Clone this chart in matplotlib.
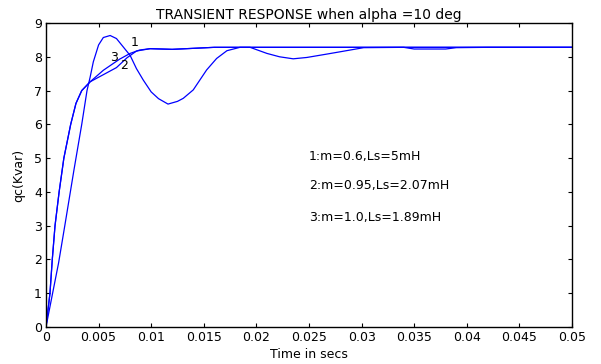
import matplotlib
matplotlib.use('Agg')
import matplotlib.pyplot as plt

## data ##

# curve 1 : m=0.6, Ls=5mH (oscillating)
t1 = [0, 0.00063, 0.0012, 0.0018, 0.00266, 0.0034, 0.0039, 0.0042, 0.0045,
      0.0050, 0.00545, 0.0061, 0.0067, 0.00735, 0.0080, 0.0086, 0.00925, 0.0100,
      0.0107, 0.0116, 0.0125, 0.01305, 0.0140, 0.01527, 0.01622, 0.0172, 0.01844,
      0.0194, 0.0210, 0.0222, 0.0235, 0.0248, 0.0267, 0.0280, 0.0302, 0.0340,
      0.0350, 0.0380, 0.0390, 0.0420, 0.0500]
q1 = [0, 1.0, 1.9, 3.02, 4.65, 6.0, 7.0, 7.4, 7.85,
      8.35, 8.57, 8.63, 8.54, 8.29, 8.04, 7.65, 7.31, 6.96,
      6.76, 6.6, 6.68, 6.77, 7.02, 7.61, 7.95, 8.18, 8.28,
      8.28, 8.1, 8.0, 7.94, 7.98, 8.08, 8.15, 8.27, 8.28,
      8.23, 8.23, 8.27, 8.28, 8.28]

# curve 2 : m=0.95, Ls=2.07mH
t2 = [0, 0.00038, 0.0006, 0.00086, 0.00125, 0.0017, 0.00235, 0.00285,
      0.0034, 0.0042, 0.00545, 0.0067, 0.0077, 0.0086, 0.0099, 0.012, 0.016, 0.05]
q2 = [0, 1.0, 2.0, 3.0, 4.0, 5.0, 6.0, 6.62,
      7.0, 7.26, 7.47, 7.68, 7.97, 8.17, 8.24, 8.22, 8.28, 8.28]

# curve 3 : m=1.0, Ls=1.89mH
t3 = [0, 0.00038, 0.0006, 0.00086, 0.00125, 0.0017, 0.00235, 0.00285,
      0.0034, 0.0042, 0.00545, 0.0070, 0.0080, 0.0089, 0.0099, 0.012, 0.016, 0.05]
q3 = [0, 1.0, 2.0, 3.0, 4.0, 5.0, 6.0, 6.62,
      7.0, 7.26, 7.6, 7.93, 8.1, 8.2, 8.24, 8.22, 8.28, 8.28]

xticks = [0, 0.005, 0.01, 0.015, 0.02, 0.025, 0.03, 0.035, 0.04, 0.045, 0.05]
xticklabels = ['0', '0.005', '0.01', '0.015', '0.02', '0.025', '0.03',
               '0.035', '0.04', '0.045', '0.05']
yticks = list(range(10))

notes = ['1:m=0.6,Ls=5mH', '2:m=0.95,Ls=2.07mH', '3:m=1.0,Ls=1.89mH']
note_y = [5.06, 4.2, 3.24]
curve_labels = ['1', '2', '3']
curve_label_pos = [(0.00846, 8.43), (0.0074, 7.75), (0.00646, 7.99)]


## plot ##

plt.rcParams['font.family'] = ['DejaVu Sans']
plt.rcParams['font.size'] = 9

fig, ax = plt.subplots(figsize=(6.01, 3.64), dpi=100)
fig.subplots_adjust(left=0.0765, right=0.9517, top=0.9368, bottom=0.1016)

for t, q in [(t1, q1), (t2, q2), (t3, q3)]:
    ax.plot(t, q, color='#0000ff', linewidth=0.9)

for lab, (x, y) in zip(curve_labels, curve_label_pos):
    ax.text(x, y, lab, ha='center', va='center')

for txt, y in zip(notes, note_y):
    ax.text(0.025, y, txt, ha='left', va='center')

ax.set_xlim(0, 0.05)
ax.set_ylim(0, 9)
ax.set_xticks(xticks)
ax.set_xticklabels(xticklabels)
ax.set_yticks(yticks)
ax.tick_params(direction='in', top=True, right=True, length=3, width=0.8, pad=3)
for s in ax.spines.values():
    s.set_linewidth(1.0)

ax.set_title('TRANSIENT RESPONSE when alpha =10 deg', fontsize=10, pad=3)
ax.set_xlabel('Time in secs', labelpad=3)
ax.set_ylabel('qc(Kvar)', labelpad=6)

fig.savefig('out.png', dpi=100)
